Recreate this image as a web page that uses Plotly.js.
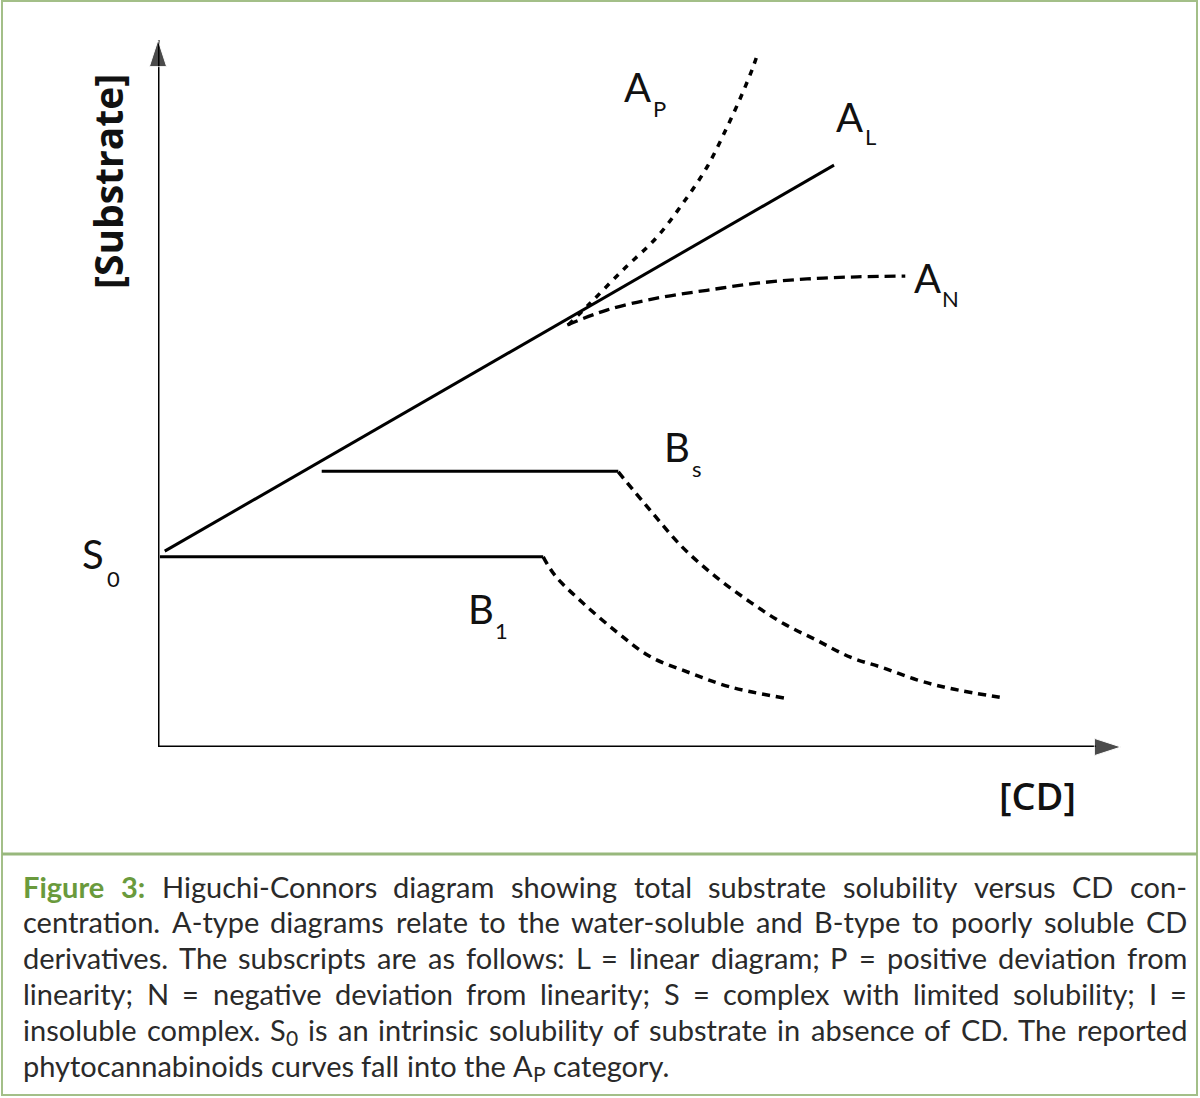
<!DOCTYPE html>
<html><head><meta charset="utf-8">
<script src="https://cdn.plot.ly/plotly-3.0.1.min.js"></script>
<style>html,body{margin:0;padding:0;background:#fff}#chart{width:1200px;height:1098px}</style>
</head><body><div id="chart"></div>
<script>
// ---- data (arbitrary units: [CD] on x, [Substrate] on y) ----
const axisMax = 10;
const alX = [0.07, 7.02];
const alY = [2.77, 8.23];
const apX = [4.26, 4.49, 4.83, 5.18, 5.45, 5.70, 5.91, 6.07, 6.18, 6.23];
const apY = [5.97, 6.28, 6.75, 7.21, 7.69, 8.20, 8.77, 9.25, 9.62, 9.82];
const anX = [4.25, 4.66, 5.18, 5.70, 6.22, 6.74, 7.26, 7.76];
const anY = [5.97, 6.18, 6.35, 6.46, 6.56, 6.62, 6.65, 6.66];
const s0 = 2.69;
const b1PlateauX = [0.02, 4.00];
const b1CurveX = [4.00, 4.12, 4.41, 4.77, 5.11, 5.52, 5.94, 6.51];
const b1CurveY = [2.69, 2.43, 2.04, 1.62, 1.28, 1.05, 0.85, 0.69];
const bsLevel = 3.90;
const bsPlateauX = [1.70, 4.78];
const bsCurveX = [4.78, 5.11, 5.45, 5.80, 6.15, 6.49, 6.84, 7.19, 7.53, 7.88, 8.22, 8.80];
const bsCurveY = [3.89, 3.35, 2.82, 2.40, 2.05, 1.75, 1.51, 1.27, 1.12, 0.95, 0.83, 0.69];

const yAxisTitle = '[Substrate]';
const xAxisTitle = '[CD]';
const captionLead = 'Figure 3:';
// "_x" marks a subscript character
const captionLines = [
  'Figure 3: Higuchi-Connors diagram showing total substrate solubility versus CD con-',
  'centration. A-type diagrams relate to the water-soluble and B-type to poorly soluble CD',
  'derivatives. The subscripts are as follows: L = linear diagram; P = positive deviation from',
  'linearity; N = negative deviation from linearity; S = complex with limited solubility; I =',
  'insoluble complex. S_0 is an intrinsic solubility of substrate in absence of CD. The reported',
  'phytocannabinoids curves fall into the A_P category.'
];

// ---- layout geometry ----
const W = 1200, H = 1098;
const M = {l: 158, r: 79, t: 40, b: 351};
const PW = W - M.l - M.r, PH = H - M.t - M.b;
const px = x => (x - M.l) / PW;          // pixel -> paper x
const py = y => (H - M.b - y) / PH;      // pixel -> paper y
const GREEN = '#a3bf88';
const LEAD_GREEN = '#6a9a3c';

const lineStyle = (dash, w) => ({color: '#000', width: w || 3, dash: dash, shape: 'spline'});

const traces = [
  {x: [0, axisMax], y: [0, 0], mode: 'lines+markers', line: {color: '#000', width: 3},
   marker: {symbol: ['circle', 'arrow'], size: [0, 28], color: '#000', angleref: 'previous'}, cliponaxis: false},
  {x: [0, 0], y: [0, axisMax], mode: 'lines+markers', line: {color: '#000', width: 3},
   marker: {symbol: ['circle', 'arrow'], size: [0, 28], color: '#000', angleref: 'previous'}, cliponaxis: false},
  {x: alX, y: alY, mode: 'lines', line: lineStyle('solid'), cliponaxis: false},
  {x: apX, y: apY, mode: 'lines', line: lineStyle('6px,7px', 3.5), cliponaxis: false},
  {x: anX, y: anY, mode: 'lines', line: lineStyle('11px,6px', 3.3), cliponaxis: false},
  {x: b1PlateauX, y: [s0, s0], mode: 'lines', line: lineStyle('solid'), cliponaxis: false},
  {x: b1CurveX, y: b1CurveY, mode: 'lines', line: lineStyle('8px,6px', 3.5), cliponaxis: false},
  {x: bsPlateauX, y: [bsLevel, bsLevel], mode: 'lines', line: lineStyle('solid'), cliponaxis: false},
  {x: bsCurveX, y: bsCurveY, mode: 'lines', line: lineStyle('8px,6px', 3.5), cliponaxis: false}
];

const LFAM = 'Lato, "Noto Sans", sans-serif';
const labelFont = {family: LFAM, size: 40, color: '#111', weight: 400};
const subFont = {family: LFAM, size: 22, color: '#111', weight: 400};
const lab = (t, x, y, f) => ({text: t, xref: 'paper', yref: 'paper', x: px(x), y: py(y),
  xanchor: 'center', yanchor: 'middle', showarrow: false, font: f});

const annotations = [
  lab('A', 637, 87, labelFont), lab('P', 659, 108, subFont),
  lab('A', 849, 117, labelFont), lab('L', 870, 137, subFont),
  lab('A', 927, 278, labelFont), lab('N', 950, 298, subFont),
  lab('B', 677, 447, labelFont), lab('s', 697, 468, subFont),
  lab('B', 481, 609, labelFont), lab('1', 501, 630, subFont),
  lab('S', 93, 554, labelFont), lab('0', 113, 578, subFont),
  {text: yAxisTitle, xref: 'paper', yref: 'paper', x: px(107), y: py(182), textangle: -90,
   xanchor: 'center', yanchor: 'middle', showarrow: false,
   font: {family: '"Open Sans", Lato, sans-serif', size: 39, color: '#111', weight: 700}},
  {text: xAxisTitle, xref: 'paper', yref: 'paper', x: px(1037), y: py(795),
   xanchor: 'center', yanchor: 'middle', showarrow: false,
   font: {family: '"Open Sans", Lato, sans-serif', size: 38, color: '#111', weight: 600}}
];

// ---- justified caption: one annotation per word, spaced with measured widths ----
const CAP_SIZE = 29, SUB_SIZE = 21, CAP_LEFT = 22, CAP_RIGHT = 1186, CAP_TOP = 886, CAP_STEP = 35.8;
const ctx = document.createElement('canvas').getContext('2d');
const textW = (t, size, bold) => { ctx.font = (bold ? 'bold ' : '') + size + 'px Lato'; return ctx.measureText(t).width; };
function splitTok(tok) {
  const m = tok.match(/^(.*)_(.)(.*)$/);
  return m ? {main: m[1], sub: m[2], tail: m[3]} : {main: tok, sub: '', tail: ''};
}
function measure(tok, bold) {
  const s = splitTok(tok);
  return textW(s.main, CAP_SIZE, bold) + (s.sub ? textW(s.sub, SUB_SIZE, bold) + textW(s.tail, CAP_SIZE, bold) : 0);
}
const spaceW = textW(' ', CAP_SIZE, false);
const leadWords = captionLead.split(' ');
captionLines.forEach((line, i) => {
  const words = line.split(' ');
  const bolds = words.map((w, k) => i === 0 && k < leadWords.length);
  const widths = words.map((w, k) => measure(w, bolds[k]));
  const total = widths.reduce((a, b) => a + b, 0);
  const last = i === captionLines.length - 1;
  const gap = last ? spaceW : (CAP_RIGHT - CAP_LEFT - total) / (words.length - 1);
  let x = CAP_LEFT;
  const y = CAP_TOP + i * CAP_STEP;
  words.forEach((w, k) => {
    const f = {family: LFAM, size: CAP_SIZE, color: bolds[k] ? LEAD_GREEN : '#2a2a2a', weight: bolds[k] ? 700 : 400};
    const s = splitTok(w);
    annotations.push({text: s.main, xref: 'paper', yref: 'paper', x: px(x - 1), y: py(y),
      xanchor: 'left', yanchor: 'middle', showarrow: false, font: f});
    if (s.sub) {
      const xs = x + textW(s.main, CAP_SIZE, bolds[k]);
      annotations.push({text: s.sub, xref: 'paper', yref: 'paper', x: px(xs - 1), y: py(y + 8),
        xanchor: 'left', yanchor: 'middle', showarrow: false, font: Object.assign({}, f, {size: SUB_SIZE})});
      if (s.tail) {
        annotations.push({text: s.tail, xref: 'paper', yref: 'paper', x: px(xs + textW(s.sub, SUB_SIZE, bolds[k]) - 1), y: py(y),
          xanchor: 'left', yanchor: 'middle', showarrow: false, font: f});
      }
    }
    x += widths[k] + gap;
  });
});

const shapes = [
  {type: 'rect', xref: 'paper', yref: 'paper', x0: px(2), x1: px(1197), y0: py(1), y1: py(1095),
   line: {color: GREEN, width: 2}},
  {type: 'line', xref: 'paper', yref: 'paper', x0: px(2), x1: px(1197), y0: py(854), y1: py(854),
   line: {color: '#98b87c', width: 3}}
];

const layout = {
  width: W, height: H, margin: M, showlegend: false,
  paper_bgcolor: '#fff', plot_bgcolor: 'rgba(0,0,0,0)',
  xaxis: {range: [0, axisMax], visible: false, fixedrange: true},
  yaxis: {range: [0, axisMax], visible: false, fixedrange: true},
  annotations: annotations, shapes: shapes
};
Plotly.newPlot('chart', traces, layout, {displayModeBar: false, staticPlot: true});
</script></body></html>
